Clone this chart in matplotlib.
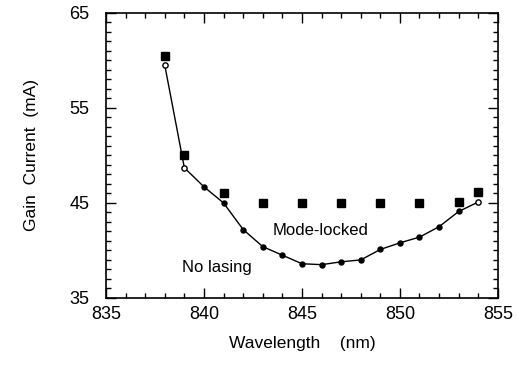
import matplotlib
matplotlib.use("Agg")
import matplotlib.pyplot as plt
from matplotlib.ticker import MultipleLocator

plt.rcParams['font.family'] = ['Liberation Sans', 'DejaVu Sans']

# No-lasing threshold curve
wl_line = [838, 839, 840, 841, 842, 843, 844, 845, 846, 847, 848, 849, 850, 851, 852, 853, 854]
cur_line = [59.5, 48.7, 46.7, 45.0, 42.2, 40.4, 39.5, 38.6, 38.5, 38.8, 39.0, 40.1, 40.8, 41.4, 42.5, 44.1, 45.1]
open_idx = [0, 1, 16]

# Mode-locked points
wl_sq = [838, 839, 841, 843, 845, 847, 849, 851, 853, 854]
cur_sq = [60.5, 50.0, 46.0, 45.0, 45.0, 45.0, 45.0, 45.0, 45.1, 46.1]

x_ticks = [835, 840, 845, 850, 855]
y_ticks = [35, 45, 55, 65]

fig = plt.figure(figsize=(5.17, 3.71), dpi=100)
ax = fig.add_axes([0.205, 0.197, 0.758, 0.768])

ax.plot(wl_line, cur_line, color='black', lw=1.0, zorder=2)
filled = [i for i in range(len(wl_line)) if i not in open_idx]
ax.plot([wl_line[i] for i in filled], [cur_line[i] for i in filled], 'o',
        color='black', ms=3.6, zorder=3)
ax.plot([wl_line[i] for i in open_idx], [cur_line[i] for i in open_idx], 'o',
        mfc='white', mec='black', mew=1.0, ms=3.8, zorder=3)
ax.plot(wl_sq, cur_sq, 's', color='black', ms=5.5, zorder=3)

ax.text(843.5, 42.05, 'Mode-locked', fontsize=12, va='center', ha='left')
ax.text(838.9, 38.2, 'No lasing', fontsize=12, va='center', ha='left')

ax.set_xlim(835, 855)
ax.set_ylim(35, 65)
ax.set_xticks(x_ticks)
ax.set_yticks(y_ticks)
ax.xaxis.set_minor_locator(MultipleLocator(1))
ax.yaxis.set_minor_locator(MultipleLocator(1))
ax.tick_params(which='both', direction='in', top=True, right=True, width=1.0)
ax.tick_params(which='major', length=7, labelsize=13)
ax.tick_params(axis='x', which='major', pad=6)
ax.tick_params(axis='y', which='major', pad=12)
ax.tick_params(which='minor', length=3.5)
for s in ax.spines.values():
    s.set_linewidth(1.2)

ax.set_xlabel('Wavelength    (nm)', fontsize=12.5, labelpad=9)
ax.set_ylabel('Gain  Current  (mA)', fontsize=12.5, labelpad=22)

fig.savefig('out.png', dpi=100)
